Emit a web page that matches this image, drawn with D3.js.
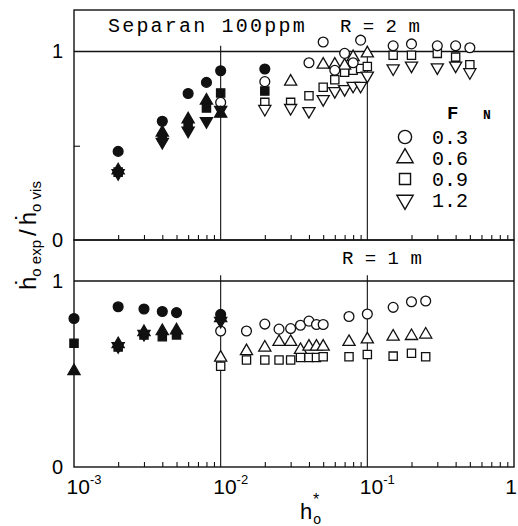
<!DOCTYPE html>
<html>
<head>
<meta charset="utf-8">
<script src="https://cdn.jsdelivr.net/npm/d3@7"></script>
<style>
  body { margin: 0; background: #fff; }
  svg { display: block; }
</style>
</head>
<body>
<script>
// F_N levels and their symbols
const fnLevels = ['0.3', '0.6', '0.9', '1.2'];

// R = 2 m panel, [h*, ratio]
const r2CircleClosed = [[0.002, 0.47], [0.004, 0.63], [0.006, 0.777], [0.008, 0.836], [0.01, 0.898], [0.02, 0.907]];
const r2TriUpClosed = [[0.002, 0.37], [0.004, 0.57], [0.006, 0.64], [0.008, 0.74], [0.01, 0.67]];
const r2SquareClosed = [[0.002, 0.36], [0.004, 0.545], [0.006, 0.61], [0.008, 0.70], [0.01, 0.78], [0.02, 0.79]];
const r2TriDownClosed = [[0.002, 0.355], [0.004, 0.52], [0.006, 0.58], [0.008, 0.63], [0.01, 0.69]];
const r2CircleOpen = [[0.01, 0.73], [0.02, 0.84], [0.04, 0.94], [0.05, 1.05], [0.06, 0.90], [0.07, 0.99], [0.08, 0.94], [0.09, 1.06], [0.15, 1.03], [0.2, 1.04], [0.3, 1.03], [0.4, 1.03], [0.5, 1.02]];
const r2TriUpOpen = [[0.03, 0.84], [0.05, 0.93], [0.06, 0.93], [0.07, 0.925], [0.08, 0.97], [0.1, 0.99]];
const r2SquareOpen = [[0.02, 0.73], [0.03, 0.73], [0.04, 0.765], [0.05, 0.81], [0.06, 0.85], [0.07, 0.89], [0.08, 0.90], [0.09, 0.91], [0.1, 0.92], [0.15, 0.98], [0.2, 0.98], [0.3, 0.99], [0.4, 0.97], [0.5, 0.93]];
const r2TriDownOpen = [[0.02, 0.695], [0.03, 0.70], [0.04, 0.684], [0.05, 0.747], [0.06, 0.79], [0.07, 0.80], [0.08, 0.818], [0.09, 0.818], [0.1, 0.872], [0.15, 0.91], [0.2, 0.925], [0.3, 0.916], [0.4, 0.925], [0.5, 0.89]];

// R = 1 m panel
const r1CircleClosed = [[0.001, 0.798], [0.002, 0.861], [0.003, 0.849], [0.004, 0.836], [0.005, 0.83], [0.01, 0.82]];
const r1TriUpClosed = [[0.001, 0.515], [0.002, 0.66], [0.003, 0.725], [0.004, 0.73], [0.005, 0.735], [0.01, 0.80]];
const r1SquareClosed = [[0.001, 0.665], [0.002, 0.645], [0.003, 0.71], [0.004, 0.70], [0.005, 0.71]];
const r1TriDownClosed = [[0.002, 0.65], [0.003, 0.715], [0.01, 0.785]];
const r1CircleOpen = [[0.01, 0.731], [0.015, 0.731], [0.02, 0.768], [0.025, 0.741], [0.03, 0.744], [0.035, 0.762], [0.04, 0.784], [0.045, 0.766], [0.05, 0.766], [0.075, 0.809], [0.1, 0.822], [0.15, 0.858], [0.2, 0.888], [0.25, 0.892]];
const r1TriUpOpen = [[0.01, 0.588], [0.015, 0.623], [0.02, 0.642], [0.025, 0.672], [0.03, 0.672], [0.035, 0.629], [0.04, 0.647], [0.045, 0.647], [0.05, 0.647], [0.075, 0.672], [0.1, 0.686], [0.15, 0.701], [0.2, 0.704], [0.25, 0.712]];
const r1SquareOpen = [[0.01, 0.542], [0.015, 0.575], [0.02, 0.575], [0.025, 0.575], [0.03, 0.575], [0.035, 0.588], [0.04, 0.588], [0.045, 0.588], [0.05, 0.593], [0.075, 0.593], [0.1, 0.605], [0.15, 0.596], [0.2, 0.611], [0.25, 0.593]];

const xTickValues = [1e-3, 1e-2, 1e-1, 1];
const xTickLabels = [['10', '-3'], ['10', '-2'], ['10', '-1'], ['1', '']];
const xGridValues = [1e-2, 1e-1];
const yTickValues = [0, 1];

var W = 518, H = 526;
var left = 74, right = 514;

var svg = d3.select('body')
  .append('svg')
  .attr('width', W)
  .attr('height', H)
  .style('font-family', 'Liberation Sans, Arial, sans-serif');

var x = d3.scaleLog().domain([1e-3, 1]).range([left, right]);
var yTop = d3.scaleLinear().domain([0, 1.22]).range([240, 10]);
var yBot = d3.scaleLinear().domain([0, 1.22]).range([467, 240]);

var minorTicks = [];
[1e-3, 1e-2, 1e-1].forEach(function (d) {
  for (var k = 2; k <= 9; k++) minorTicks.push(d * k);
});

var shapes = [d3.symbolCircle, d3.symbolTriangle, d3.symbolSquare, d3.symbolTriangle];
var sizes = [76, 64, 68, 64];

function drawPanel(y, groups) {
  var g = svg.append('g');

  // frame
  g.append('rect')
    .attr('x', left).attr('y', y.range()[1])
    .attr('width', right - left).attr('height', y.range()[0] - y.range()[1])
    .attr('fill', 'none').attr('stroke', '#111').attr('stroke-width', 1.4);

  // reference line at 1
  g.append('line')
    .attr('x1', left).attr('x2', right)
    .attr('y1', y(1)).attr('y2', y(1))
    .attr('stroke', '#111').attr('stroke-width', 1.4);

  // decade grid
  g.selectAll('.grid')
    .data(xGridValues)
    .enter()
    .append('line')
    .attr('x1', d => x(d)).attr('x2', d => x(d))
    .attr('y1', y(1.03)).attr('y2', y(0))
    .attr('stroke', '#111').attr('stroke-width', 1.1);

  // minor ticks along the bottom, pointing in
  g.append('g')
    .attr('transform', 'translate(0,' + y(0) + ')')
    .call(d3.axisTop(x).tickValues(minorTicks).tickSize(5).tickFormat(''))
    .call(a => a.select('.domain').remove())
    .selectAll('line').attr('stroke', '#111').attr('stroke-width', 1.1);

  // tick at 0.5 on left
  g.append('g')
    .attr('transform', 'translate(' + left + ',0)')
    .call(d3.axisRight(y).tickValues([0.5]).tickSize(6).tickFormat(''))
    .call(a => a.select('.domain').remove())
    .selectAll('line').attr('stroke', '#111').attr('stroke-width', 1.1);

  // y labels
  g.selectAll('.ylab')
    .data(yTickValues)
    .enter()
    .append('text')
    .attr('x', 63)
    .attr('y', d => y(d) + 7)
    .attr('text-anchor', 'end')
    .style('font-size', '20px')
    .text(d => d);

  // points
  groups.forEach(function (grp) {
    g.append('g')
      .selectAll('path')
      .data(grp.data)
      .enter()
      .append('path')
      .attr('d', d3.symbol().type(shapes[grp.s]).size(sizes[grp.s]))
      .attr('transform', d => 'translate(' + x(d[0]) + ',' + y(d[1]) + ')' + (grp.s === 3 ? ' rotate(180)' : ''))
      .attr('fill', grp.filled ? '#111' : '#fff')
      .attr('stroke', '#111')
      .attr('stroke-width', 1.3);
  });

  return g;
}

drawPanel(yTop, [
  { data: r2SquareOpen, s: 2, filled: false },
  { data: r2TriDownOpen, s: 3, filled: false },
  { data: r2TriUpOpen, s: 1, filled: false },
  { data: r2CircleOpen, s: 0, filled: false },
  { data: r2TriUpClosed, s: 1, filled: true },
  { data: r2TriDownClosed, s: 3, filled: true },
  { data: r2SquareClosed, s: 2, filled: true },
  { data: r2CircleClosed, s: 0, filled: true }
]);

drawPanel(yBot, [
  { data: r1SquareOpen, s: 2, filled: false },
  { data: r1TriUpOpen, s: 1, filled: false },
  { data: r1CircleOpen, s: 0, filled: false },
  { data: r1SquareClosed, s: 2, filled: true },
  { data: r1TriUpClosed, s: 1, filled: true },
  { data: r1TriDownClosed, s: 3, filled: true },
  { data: r1CircleClosed, s: 0, filled: true }
]);

// panel headings
var mono = 'Liberation Mono, DejaVu Sans Mono, monospace';
svg.append('text')
  .attr('x', 108).attr('y', 32)
  .style('font-family', mono).style('font-size', '20px').style('letter-spacing', '2.2px')
  .text('Separan 100ppm');
svg.append('text')
  .attr('x', 340).attr('y', 32)
  .style('font-family', mono).style('font-size', '19px')
  .text('R = 2 m');
svg.append('text')
  .attr('x', 342).attr('y', 264)
  .style('font-family', mono).style('font-size', '19px')
  .text('R = 1 m');

// legend
var legend = svg.append('g');
legend.append('text')
  .attr('x', 447).attr('y', 119)
  .style('font-family', mono).style('font-size', '19px').style('font-weight', 'bold')
  .text('F');
legend.append('text')
  .attr('x', 483).attr('y', 119)
  .style('font-family', mono).style('font-size', '13px').style('font-weight', 'bold')
  .text('N');
var rows = legend.selectAll('.row')
  .data(fnLevels)
  .enter()
  .append('g')
  .attr('transform', (d, i) => 'translate(0,' + (137 + i * 21) + ')');
rows.append('path')
  .attr('d', (d, i) => d3.symbol().type(shapes[i]).size(sizes[i] * 1.8)())
  .attr('transform', (d, i) => 'translate(405,0)' + (i === 3 ? ' rotate(180)' : ''))
  .attr('fill', '#fff').attr('stroke', '#111').attr('stroke-width', 1.4);
rows.append('text')
  .attr('x', 432).attr('y', 7)
  .style('font-family', mono).style('font-size', '20px')
  .text(d => d);

// x tick labels
var xl = svg.selectAll('.xlab')
  .data(xTickValues)
  .enter()
  .append('text')
  .attr('x', (d, i) => i === 3 ? 517 : x(d) + 10)
  .attr('y', 494)
  .attr('text-anchor', (d, i) => i === 3 ? 'end' : 'middle')
  .style('font-size', '21px');
xl.append('tspan').text((d, i) => xTickLabels[i][0]);
xl.append('tspan').attr('dy', -10).style('font-size', '13px').text((d, i) => xTickLabels[i][1]);

// x title
var xt = svg.append('text')
  .attr('x', 300).attr('y', 519)
  .style('font-size', '22px');
xt.append('tspan').text('h');
xt.append('tspan').attr('dx', 1).attr('dy', 5).style('font-size', '14px').text('o');
xt.append('tspan').attr('dx', -8).attr('dy', -19).style('font-size', '16px').text('*');

// y title
var yt = svg.append('text')
  .attr('transform', 'translate(36,290) rotate(-90)')
  .style('font-size', '24px');
yt.append('tspan').text('\u1E23');
yt.append('tspan').attr('dy', 5).style('font-size', '15px').text('o exp');
yt.append('tspan').attr('dy', -5).attr('dx', 4).text('/');
yt.append('tspan').attr('dx', 4).text('\u1E23');
yt.append('tspan').attr('dy', 5).style('font-size', '15px').text('o vis');
</script>
</body>
</html>
